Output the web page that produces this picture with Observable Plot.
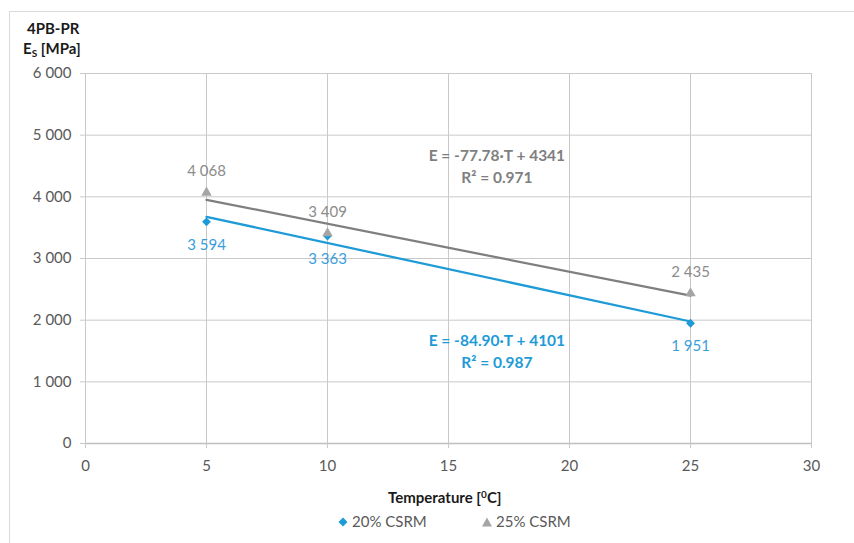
<!DOCTYPE html>
<html><head><meta charset="utf-8">
<script src="https://cdn.jsdelivr.net/npm/d3@7"></script>
<script src="https://cdn.jsdelivr.net/npm/@observablehq/plot@0.6"></script>
<style>
body{margin:0;background:#fff;font-family:Lato,"Open Sans",sans-serif;}
#wrap{position:relative;width:854px;height:543px;overflow:hidden;background:#fff}
#frame{position:absolute;left:9px;top:11px;width:900px;height:600px;border-left:1px solid #d9d9d9;border-top:1px solid #d9d9d9}
#chart{position:absolute;left:0;top:0}
.t{position:absolute;font-weight:bold;font-size:15px;color:#1a1a1a;white-space:nowrap;line-height:1}
#legend{position:absolute;top:514px;left:0;width:854px;font-size:15px;color:#595959;line-height:1}
.li{position:absolute;white-space:nowrap;display:flex;align-items:center}
.li svg{margin-right:3px}
</style>
</head><body>
<div id="wrap">
<div id="frame"></div>
<div id="chart"></div>
<div class="t" style="left:27px;top:21px">4PB-PR</div>
<div class="t" style="left:23px;top:41px">E<sub style="font-size:10px;vertical-align:-3px">S</sub> [MPa]</div>
<div class="t" style="left:388px;top:489px">Temperature [<sup style="font-size:10px;vertical-align:5px">0</sup>C]</div>
<div id="legend"></div>
</div>
<script>
const temps = [5, 10, 25];
const seriesNames = ["20% CSRM", "25% CSRM"];
const es20 = [3594, 3363, 1951];
const es25 = [4068, 3409, 2435];
const slopes = [-84.90, -77.78];
const intercepts = [4101, 4341];
const r2 = [0.987, 0.971];
const xTicks = [0, 5, 10, 15, 20, 25, 30];
const yTicks = [0, 1000, 2000, 3000, 4000, 5000, 6000];

const blue = "#1E9BD7", blueText = "#3A9EDB";
const grayLine = "#7F7F7F", grayMark = "#A5A5A5", grayText = "#8C8C8C", grayEq = "#7F7F7F";
const gridC = "#C9C9C9";

const fmt = v => d3.format(",")(v).replace(/,/g, " ");

const pts20 = temps.map((t, i) => ({t, e: es20[i]}));
const pts25 = temps.map((t, i) => ({t, e: es25[i]}));
const xr = d3.extent(temps);
const trend = (k) => xr.map(t => ({t, e: slopes[k] * t + intercepts[k]}));
const eqText = k => `E = ${slopes[k].toFixed(2)}·T + ${intercepts[k]}\nR² = ${r2[k].toFixed(3)}`;

const chart = Plot.plot({
  width: 854, height: 543,
  marginLeft: 85, marginRight: 43, marginTop: 73, marginBottom: 100,
  style: {fontFamily: "Lato, 'Open Sans', sans-serif", fontSize: "15px", background: "transparent"},
  x: {domain: [0, 30], ticks: xTicks},
  y: {domain: [0, 6000], ticks: yTicks},
  marks: [
    Plot.gridX(xTicks.slice(1), {stroke: gridC, strokeOpacity: 1}),
    Plot.gridY(yTicks.slice(1), {stroke: gridC, strokeOpacity: 1}),
    Plot.ruleX([0], {stroke: gridC}),
    Plot.ruleY([0], {stroke: "#BFBFBF", strokeWidth: 1.5}),
    Plot.axisY(yTicks, {tickSize: 5, tickPadding: 9, stroke: gridC, fill: "#595959", tickFormat: fmt, label: null}),
    Plot.axisX(xTicks, {tickSize: 5, tickPadding: 12, stroke: gridC, fill: "#595959", label: null}),
    Plot.line(trend(1), {x: "t", y: "e", stroke: grayLine, strokeWidth: 2.25}),
    Plot.line(trend(0), {x: "t", y: "e", stroke: blue, strokeWidth: 2.25}),
    Plot.dot(pts20, {x: "t", y: "e", symbol: "diamond2", r: 4, fill: blue, stroke: "none"}),
    Plot.dot(pts25, {x: "t", y: "e", symbol: "triangle", r: 3.9, fill: grayMark, stroke: "none"}),
    Plot.text(pts25, {x: "t", y: "e", text: d => fmt(d.e), dy: -21, fill: grayText}),
    Plot.text(pts20, {x: "t", y: "e", text: d => fmt(d.e), dy: 23, fill: blueText}),
    Plot.text([eqText(1)], {x: 17, y: 4520, text: d => d, fill: grayEq, fontWeight: "bold", fontSize: 15.5, lineHeight: 1.42}),
    Plot.text([eqText(0)], {x: 17, y: 1515, text: d => d, fill: blue, fontWeight: "bold", fontSize: 15.5, lineHeight: 1.42})
  ]
});
document.getElementById("chart").appendChild(chart);

const legend = document.getElementById("legend");
const items = [
  {name: seriesNames[0], left: 337, shape: `<svg width="12" height="12"><path d="M6 1.5 L10.5 6 L6 10.5 L1.5 6Z" fill="${blue}"/></svg>`},
  {name: seriesNames[1], left: 481, shape: `<svg width="12" height="12"><path d="M6 1.5 L11 10.5 L1 10.5Z" fill="${grayMark}"/></svg>`}
];
items.forEach(it => {
  const d = document.createElement("div");
  d.className = "li";
  d.style.left = it.left + "px";
  d.innerHTML = it.shape + `<span>${it.name}</span>`;
  legend.appendChild(d);
});
</script>
</body></html>
